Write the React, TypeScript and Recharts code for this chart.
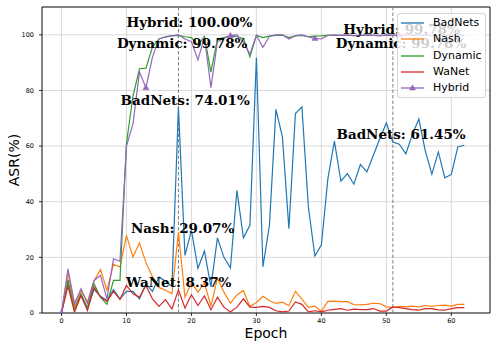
import React from "react";
import {
  LineChart,
  Line,
  XAxis,
  YAxis,
  CartesianGrid,
  ReferenceLine,
  ReferenceDot,
  ReferenceArea,
} from "recharts";

document.body.style.margin = "0";

// ASR (%) per epoch, epochs 0..62
const badNets = [
  0, 12, 1.5, 6.5, 1.5, 8.5, 6, 4.5, 8.4, 5, 7.8, 7.8, 5.1, 10.5, 7.8, 12.9, 11.5, 9.5, 74.01, 20.7,
  29.7, 16, 22.3, 9.4, 27, 20, 16.2, 44.1, 27, 31.5, 91.8, 16.6, 31.5, 73.2, 63.3, 30.3, 71.7, 74.1, 38, 20.5,
  24.5, 48.3, 61.8, 47.4, 50.1, 46.3, 53.4, 50.7, 56.7, 62.7, 68.3, 61.45, 60.7, 57.2, 64.2, 69.7, 58.2, 49.9, 57.9, 48.6,
  49.8, 59.7, 60.3,
];
const nash = [
  0, 14.5, 2.2, 8, 4, 11.5, 15.6, 8.2, 17.5, 16.5, 27.9, 20.1, 25.2, 18.1, 13, 9.2, 8.2, 7, 29.07, 5.7,
  11, 7.5, 10.8, 2.5, 12.5, 7.5, 3.5, 6.5, 8.1, 2.3, 3.8, 6, 4.4, 3.5, 3.9, 2.6, 7.8, 5, 2, 2.5,
  0.6, 4.2, 4.3, 4.1, 4.1, 3, 2.9, 3.1, 3.5, 3.4, 2.2, 1.9, 2.4, 2.2, 2.5, 2.2, 2.7, 2.4, 2.7, 2.8,
  2.5, 3.1, 3.1,
];
const dynamic = [
  0, 11, 1, 6.9, 1.8, 10.5, 5.7, 3.1, 11.7, 11.7, 61, 78, 87.8, 88, 95.6, 98.5, 99.3, 99.7, 99.78, 99.3,
  99, 96.3, 99.4, 86.6, 98.5, 99, 99.5, 99.3, 98.7, 92.1, 99.8, 99, 99.5, 99.8, 99.9, 99, 99.6, 99.8, 99.3, 99.5,
  99.6, 99.8, 99.9, 99.8, 99.9, 99.7, 99.8, 99.9, 99.8, 99.7, 99.9, 99.78, 99.9, 99.8, 99.9, 99.8, 99.9, 99.7, 99.8, 99.9,
  99.8, 99.9, 99.8,
];
const waNet = [
  0, 9.7, 0.3, 6.3, 0.9, 9.3, 5.7, 4.2, 7.8, 4.9, 9.9, 6.9, 5.7, 9.9, 5.1, 2.4, 4.8, 1.5, 8.37, 1.8,
  6.6, 2.7, 6.1, 1.2, 5.7, 2.1, 0.4, 2.1, 5.1, 2.1, 2, 2.4, 2, 0.8, 0.4, 0.7, 4, 3.1, 0.4, 0.8,
  0.4, 1, 1.3, 1.6, 1, 1.4, 1.2, 1.2, 1.6, 0.7, 0.7, 2.2, 1.9, 1.6, 1.2, 1, 1.6, 1.6, 1.1, 1,
  1.6, 1.9, 1.9,
];
const hybrid = [
  0, 15.9, 3.4, 8.7, 3.4, 11.7, 13.5, 5.1, 19.5, 18.6, 60, 68, 86.6, 81, 92, 98.5, 99.2, 99.6, 100, 98.5,
  97.5, 91, 99.2, 81, 97.5, 98.7, 99.7, 100, 97.5, 93, 99.8, 95.5, 99.5, 100, 100, 98.5, 99.7, 100, 99.2, 98.7,
  98.5, 99.8, 99.9, 99.8, 99.9, 99.7, 99.8, 99.9, 99.8, 99.7, 99.9, 99.78, 99.9, 99.8, 99.9, 99.8, 99.9, 99.7, 99.8, 99.9,
  99.8, 99.9, 99.8,
];

const xTicks = [0, 10, 20, 30, 40, 50, 60];
const yTicks = [0, 20, 40, 60, 80, 100];
const bestEpochs = [18, 51];

const annotations = [
  { x: 18, y: 100, text: "Hybrid: 100.00%" },
  { x: 18, y: 99.78, text: "Dynamic: 99.78%" },
  { x: 18, y: 74.01, text: "BadNets: 74.01%" },
  { x: 18, y: 29.07, text: "Nash: 29.07%" },
  { x: 18, y: 8.37, text: "WaNet: 8.37%" },
  { x: 51, y: 99.78, text: "Hybrid: 99.78%" },
  { x: 51, y: 99.78, text: "Dynamic: 99.78%" },
  { x: 51, y: 61.45, text: "BadNets: 61.45%" },
];
// pixel offsets of each label centre from its point
const annotationOffsets = [
  [11, -12.7],
  [3.7, 8],
  [6.7, -7],
  [4.2, -4.2],
  [0.2, -7.4],
  [8.7, -6.6],
  [8.2, 7.4],
  [8.2, -7.6],
];

const series = [
  { key: "badNets", label: "BadNets", color: "#1f77b4" },
  { key: "nash", label: "Nash", color: "#ff7f0e" },
  { key: "dynamic", label: "Dynamic", color: "#2ca02c" },
  { key: "waNet", label: "WaNet", color: "#d62728" },
  { key: "hybrid", label: "Hybrid", color: "#9467bd" },
];

const data = badNets.map((v, i) => ({
  epoch: i,
  badNets: v,
  nash: nash[i],
  dynamic: dynamic[i],
  waNet: waNet[i],
  hybrid: hybrid[i],
}));

const X_DOMAIN = [-3, 65.95];
const Y_DOMAIN = [0, 110];
const tickStyle = { fontSize: 6.5, fill: "#000", fontFamily: "DejaVu Sans" };

function Triangle({ cx, cy, color }: { cx: number; cy: number; color: string }) {
  return (
    <polygon
      points={`${cx},${cy - 3.3} ${cx - 3},${cy + 2} ${cx + 3},${cy + 2}`}
      fill={color}
      stroke={color}
      strokeWidth={0.5}
    />
  );
}

// markers every 13th epoch on the Hybrid curve
function hybridDot(props: any) {
  const { cx, cy, index } = props;
  if (index % 13 !== 0 || cx == null) return <g key={`d${index}`} />;
  return (
    <g key={`d${index}`}>
      <Triangle cx={cx} cy={cy} color="#9467bd" />
    </g>
  );
}

function ChartLegend() {
  return (
    <div
      style={{
        position: "absolute",
        left: 397,
        top: 13,
        width: 87,
        height: 83,
        background: "rgba(255,255,255,0.8)",
        border: "1px solid rgba(204,204,204,0.8)",
        borderRadius: 3,
        fontFamily: "DejaVu Sans",
        fontSize: 11,
      }}
    >
      {series.map((s, i) => (
        <div
          key={s.key}
          style={{ position: "absolute", left: 0, top: 1 + i * 16.3, height: 16, display: "flex", alignItems: "center" }}
        >
          <svg width={32} height={16} style={{ display: "block" }}>
            <line x1={3} x2={26} y1={8} y2={8} stroke={s.color} strokeWidth={1.3} />
            {s.key === "hybrid" && <Triangle cx={14.5} cy={8} color={s.color} />}
          </svg>
          <span style={{ marginLeft: 3, color: "#000", lineHeight: "16px" }}>{s.label}</span>
        </div>
      ))}
    </div>
  );
}

export default function App() {
  return (
    <div style={{ position: "relative", width: 498, height: 349, background: "#fff" }}>
      <LineChart width={498} height={349} data={data} margin={{ top: 7, right: 8, bottom: 0, left: 0 }}>
        <CartesianGrid stroke="#d0d0d0" strokeWidth={0.8} />
        <XAxis
          dataKey="epoch"
          type="number"
          domain={X_DOMAIN}
          ticks={xTicks}
          allowDataOverflow
          height={36}
          axisLine={false}
          tickLine={{ stroke: "#000", strokeWidth: 0.8 }}
          tickSize={3}
          tickMargin={2}
          tick={tickStyle}
          label={{
            content: (p: any) => (
              <text
                x={p.viewBox.x + p.viewBox.width / 2}
                y={p.viewBox.y + 20}
                textAnchor="middle"
                dominantBaseline="central"
                fontFamily="DejaVu Sans"
                fontSize={14}
                fill="#000"
              >
                Epoch
              </text>
            ),
          }}
        />
        <YAxis
          type="number"
          domain={Y_DOMAIN}
          ticks={yTicks}
          allowDataOverflow
          width={42}
          axisLine={false}
          tickLine={{ stroke: "#000", strokeWidth: 0.8 }}
          tickSize={3}
          tickMargin={5}
          tick={tickStyle}
          label={{
            content: (p: any) => {
              const cx = p.viewBox.x + 14;
              const cy = p.viewBox.y + p.viewBox.height / 2;
              return (
                <text
                  x={cx}
                  y={cy}
                  transform={`rotate(-90 ${cx} ${cy})`}
                  textAnchor="middle"
                  dominantBaseline="central"
                  fontFamily="DejaVu Sans"
                  fontSize={14}
                  fill="#000"
                >
                  ASR(%)
                </text>
              );
            },
          }}
        />
        {bestEpochs.map((e) => (
          <ReferenceLine key={e} x={e} stroke="#808080" strokeWidth={1} strokeDasharray="3.5 2" />
        ))}
        {series.map((s) => (
          <Line
            key={s.key}
            dataKey={s.key}
            name={s.label}
            stroke={s.color}
            strokeWidth={1.2}
            type="linear"
            dot={s.key === "hybrid" ? hybridDot : false}
            activeDot={false}
            isAnimationActive={false}
          />
        ))}
        {annotations.map((a, i) => (
          <ReferenceDot
            key={i}
            x={a.x}
            y={a.y}
            r={0}
            shape={(p: any) => (
              <text
                x={p.cx + annotationOffsets[i][0]}
                y={p.cy + annotationOffsets[i][1]}
                textAnchor="middle"
                dominantBaseline="central"
                fontFamily="DejaVu Serif"
                fontWeight="bold"
                fontSize={13.5}
                fill="#000"
              >
                {a.text}
              </text>
            )}
          />
        ))}
        <ReferenceArea
          x1={X_DOMAIN[0]}
          x2={X_DOMAIN[1]}
          y1={Y_DOMAIN[0]}
          y2={Y_DOMAIN[1]}
          fill="none"
          stroke="#000"
          strokeWidth={0.9}
        />
      </LineChart>
      <ChartLegend />
    </div>
  );
}
